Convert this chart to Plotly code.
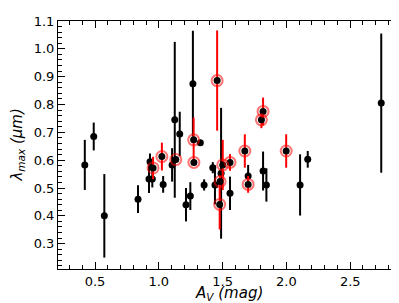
import plotly.graph_objects as go

# Black (plain) sources
bx = [0.42, 0.49, 0.573, 0.837, 0.923, 0.931, 0.949, 1.034, 1.104, 1.125, 1.164, 1.213, 1.247,
      1.267, 1.325, 1.355, 1.423, 1.44, 1.488, 1.558, 1.70, 1.817, 1.843, 2.107, 2.167, 2.743]
by = [0.583, 0.685, 0.40, 0.46, 0.532, 0.594, 0.532, 0.513, 0.583, 0.745, 0.694, 0.44, 0.471,
      0.875, 0.663, 0.511, 0.573, 0.511, 0.553, 0.481, 0.543, 0.561, 0.511, 0.511, 0.603, 0.805]
be = [0.09, 0.05, 0.15, 0.05, 0.05, 0.03, 0.03, 0.03, 0.06, 0.28, 0.08, 0.06, 0.05,
      0.19, 0.01, 0.02, 0.02, 0.07, 0.235, 0.06, 0.04, 0.07, 0.06, 0.11, 0.03, 0.25]

# Highlighted (red) sources
rx = [0.955, 1.024, 1.133, 1.273, 1.275, 1.457, 1.501, 1.48, 1.477, 1.558, 1.674, 1.70, 1.817, 1.804, 1.998]
ry = [0.572, 0.613, 0.602, 0.673, 0.592, 0.886, 0.583, 0.523, 0.441, 0.592, 0.633, 0.513, 0.775, 0.745, 0.633]
re = [0.04, 0.05, 0.01, 0.08, 0.01, 0.18, 0.09, 0.02, 0.09, 0.03, 0.06, 0.03, 0.05, 0.03, 0.06]

xticks = [0.5, 1.0, 1.5, 2.0, 2.5]
yticks = [0.3, 0.4, 0.5, 0.6, 0.7, 0.8, 0.9, 1.0, 1.1]

fig = go.Figure()
fig.add_trace(go.Scatter(
    x=bx, y=by, mode="markers",
    marker=dict(color="black", size=7),
    error_y=dict(type="data", array=be, color="black", thickness=2, width=0),
    showlegend=False))
fig.add_trace(go.Scatter(
    x=rx, y=ry, mode="markers",
    marker=dict(color="black", size=7),
    error_y=dict(type="data", array=re, color="red", thickness=2, width=0),
    showlegend=False))
fig.add_trace(go.Scatter(
    x=rx, y=ry, mode="markers",
    marker=dict(color="rgba(0,0,0,0)", size=11,
                line=dict(color="rgba(255,0,0,0.55)", width=2)),
    showlegend=False))

axis_common = dict(
    showgrid=False, zeroline=False, showline=True, linecolor="black", linewidth=1,
    mirror="allticks", ticks="inside", ticklen=7, tickwidth=1, tickcolor="black",
    tickfont=dict(family="DejaVu Sans", size=13, color="black"),
)
fig.update_xaxes(
    range=[0.21, 2.89], tickmode="array", tickvals=xticks,
    ticktext=[f"{v:.1f}" for v in xticks],
    minor=dict(dtick=0.1, tick0=0, ticks="inside", ticklen=4, tickcolor="black", showgrid=False),
    **axis_common)
fig.update_yaxes(
    range=[0.209, 1.1], tickmode="array", tickvals=yticks,
    ticktext=[f"{v:.1f}" for v in yticks],
    minor=dict(dtick=0.02, tick0=0, ticks="inside", ticklen=4, tickcolor="black", showgrid=False),
    **axis_common)

fig.add_annotation(text="<i>A<sub>V</sub> (mag)</i>", xref="paper", yref="paper",
                   x=0.5, y=-0.097, xanchor="center", yanchor="middle", showarrow=False,
                   font=dict(family="DejaVu Sans", size=15, color="black"))
fig.add_annotation(text="<i>λ<sub>max</sub> (μm)</i>", xref="paper", yref="paper",
                   x=-0.121, y=0.5, xanchor="center", yanchor="middle", showarrow=False,
                   textangle=-90, font=dict(family="DejaVu Sans", size=15, color="black"))

fig.update_layout(
    width=399, height=303,
    margin=dict(l=50, r=6, t=11, b=42),
    plot_bgcolor="white", paper_bgcolor="white",
)
fig.write_html("out.html")
